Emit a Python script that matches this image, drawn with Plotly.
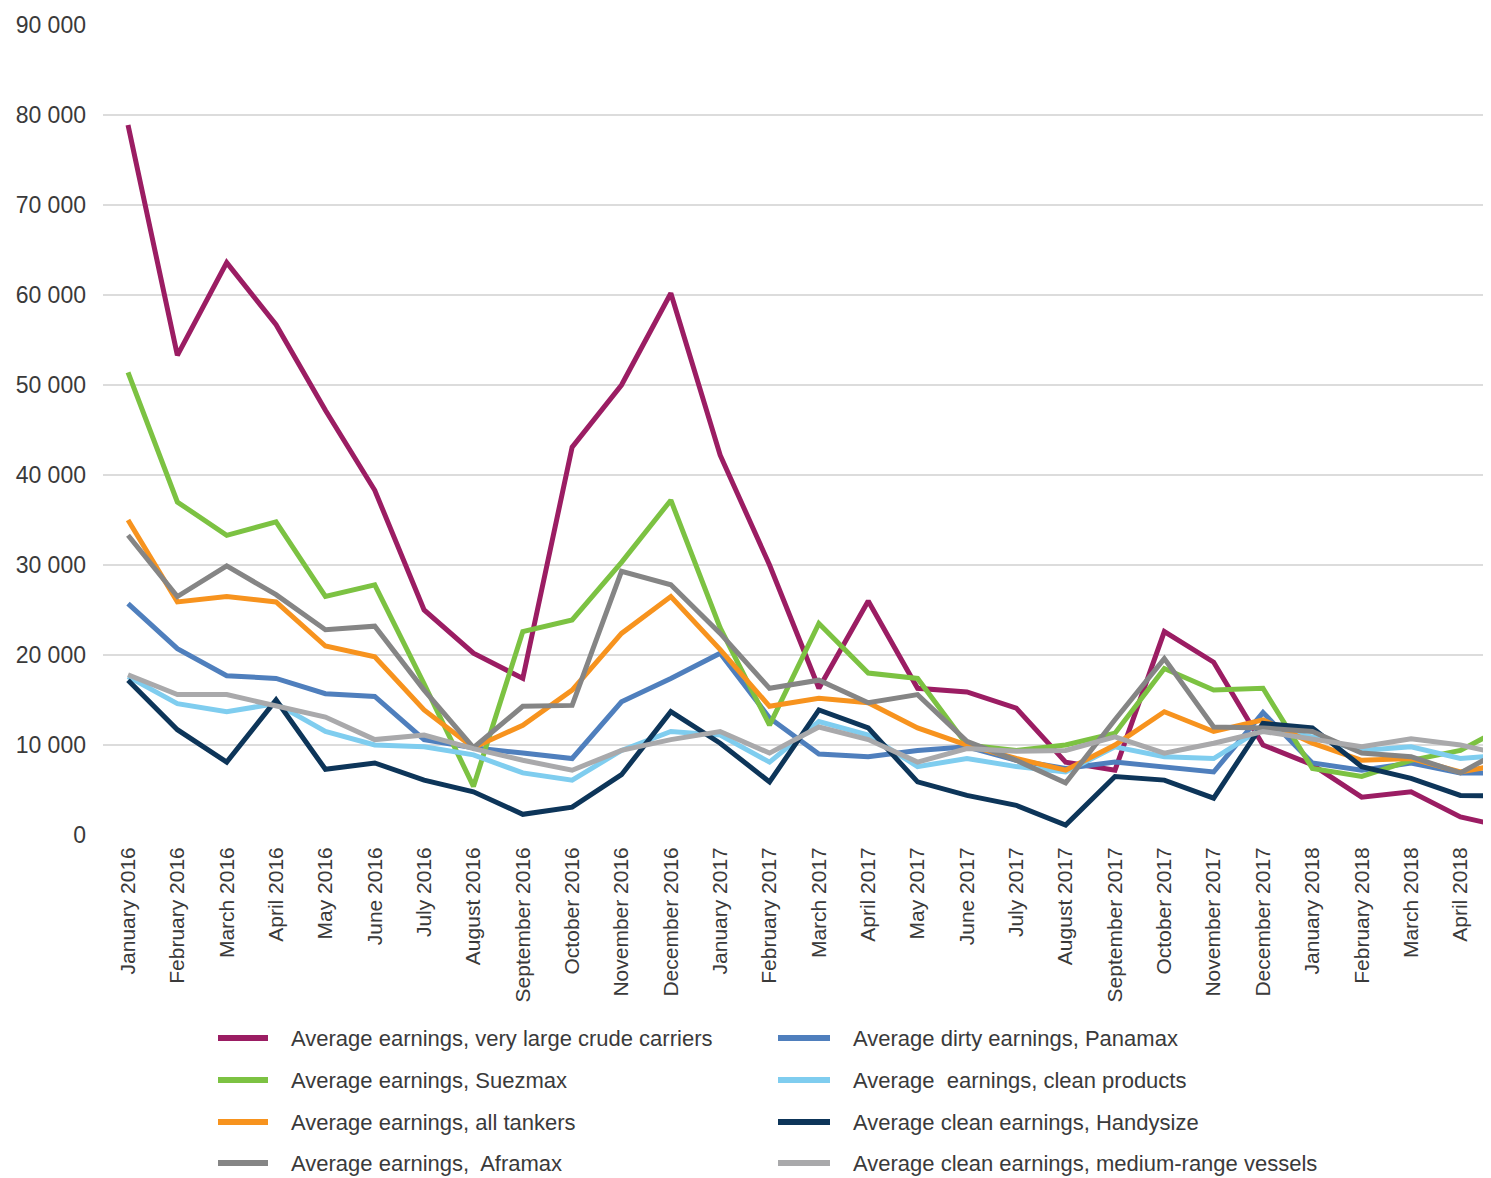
import plotly.graph_objects as go

months = ["January 2016", "February 2016", "March 2016", "April 2016", "May 2016", "June 2016",
          "July 2016", "August 2016", "September 2016", "October 2016", "November 2016", "December 2016",
          "January 2017", "February 2017", "March 2017", "April 2017", "May 2017", "June 2017",
          "July 2017", "August 2017", "September 2017", "October 2017", "November 2017", "December 2017",
          "January 2018", "February 2018", "March 2018", "April 2018", "May 2018"]

vlcc = [78900, 53300, 63600, 56700, 47200, 38300, 25000, 20200, 17400, 43100, 50000, 60200,
        42200, 30000, 16300, 26000, 16300, 15900, 14100, 8100, 7200, 22600, 19200, 10000,
        7800, 4200, 4800, 2000, 800]
panamax = [25700, 20700, 17700, 17400, 15700, 15400, 10600, 9700, 9100, 8500, 14800, 17400,
           20200, 13000, 9000, 8700, 9400, 9800, 8300, 7400, 8100, 7600, 7000, 13600,
           8000, 7200, 8000, 6900, 6900]
suezmax = [51400, 37000, 33300, 34800, 26500, 27800, 16800, 5400, 22600, 23900, 30300, 37200,
           23000, 12200, 23500, 18000, 17400, 10000, 9400, 10000, 11300, 18500, 16100, 16300,
           7400, 6500, 8300, 9400, 12300]
clean_products = [17600, 14600, 13700, 14600, 11500, 10000, 9800, 8900, 6900, 6100, 9400, 11500,
                  11100, 8100, 12600, 11100, 7600, 8500, 7600, 7000, 9800, 8700, 8500, 11900,
                  10900, 9400, 9800, 8500, 8900]
all_tankers = [35000, 25900, 26500, 25900, 21000, 19800, 13900, 9700, 12200, 16100, 22400, 26500,
               20600, 14300, 15200, 14700, 11900, 10000, 8500, 7200, 10000, 13700, 11500, 12800,
               10200, 8300, 8500, 7000, 8000]
handysize = [17200, 11700, 8100, 15000, 7300, 8000, 6100, 4800, 2300, 3100, 6700, 13700,
             10200, 5900, 13900, 11900, 5900, 4400, 3300, 1100, 6500, 6100, 4100, 12400,
             11900, 7600, 6300, 4400, 4300]
aframax = [33300, 26500, 29900, 26700, 22800, 23200, 16100, 9700, 14300, 14400, 29300, 27800,
           22400, 16300, 17200, 14700, 15600, 10400, 8300, 5800, 12800, 19600, 12000, 11900,
           11500, 9100, 8700, 6900, 9900]
medium_range = [17800, 15600, 15600, 14400, 13100, 10600, 11100, 9600, 8300, 7200, 9400, 10600,
                11500, 9100, 12000, 10600, 8100, 9600, 9300, 9400, 10900, 9100, 10200, 11500,
                10700, 9800, 10700, 10000, 8800]

series_names = [
    "Average earnings, very large crude carriers",
    "Average dirty earnings, Panamax",
    "Average earnings, Suezmax",
    "Average  earnings, clean products",
    "Average earnings, all tankers",
    "Average clean earnings, Handysize",
    "Average earnings,  Aframax",
    "Average clean earnings, medium-range vessels",
]
series_values = [vlcc, panamax, suezmax, clean_products, all_tankers, handysize, aframax, medium_range]
series_colors = ["#9b1d63", "#4f7fbd", "#7cc242", "#7fcdef", "#f7931e", "#0d3559", "#858585", "#a9a9ab"]

y_ticks = [0, 10000, 20000, 30000, 40000, 50000, 60000, 70000, 80000, 90000]
y_tick_labels = ["0", "10 000", "20 000", "30 000", "40 000", "50 000", "60 000", "70 000", "80 000", "90 000"]

FONT = "Liberation Sans, Arial, Helvetica, sans-serif"
TXT = "#3a3a3a"

W, H = 1483, 1170
L, R, T, B = 95, 0, 17, 343
PW, PH = W - L - R, H - T - B


def px_x(fx):
    return (fx - L) / PW


def px_y(fy):
    return (H - B - fy) / PH


fig = go.Figure()
for name, vals, color in zip(series_names, series_values, series_colors):
    fig.add_trace(go.Scatter(x=months, y=vals, name=name, mode="lines",
                             line=dict(color=color, width=5), showlegend=False))

# manual two-column legend (column-major as in the original)
shapes, annotations = [], []
col_line_x = [(210, 260), (770, 822)]
col_text_x = [281, 843]
row_y = [1030, 1072, 1114, 1155]
for i, (name, color) in enumerate(zip(series_names, series_colors)):
    col, row = i % 2, i // 2
    y = px_y(row_y[row])
    shapes.append(dict(type="line", xref="paper", yref="paper",
                       x0=px_x(col_line_x[col][0]), x1=px_x(col_line_x[col][1]), y0=y, y1=y,
                       line=dict(color=color, width=6)))
    annotations.append(dict(xref="paper", yref="paper", x=px_x(col_text_x[col]), y=y,
                            xanchor="left", yanchor="middle", showarrow=False, text=name,
                            font=dict(family=FONT, size=22, color=TXT)))

fig.update_layout(
    width=W, height=H,
    margin=dict(l=L, r=R, t=T, b=B, autoexpand=False),
    paper_bgcolor="white", plot_bgcolor="white",
    font=dict(family=FONT, size=22, color=TXT),
    showlegend=False,
    shapes=shapes, annotations=annotations,
    xaxis=dict(type="category", categoryorder="array", categoryarray=months,
               range=[-0.507, 27.62], tickangle=-90, showgrid=False, zeroline=False,
               showline=False, ticks="", ticklabelstandoff=7, automargin=False,
               tickfont=dict(family=FONT, size=21, color=TXT)),
    yaxis=dict(range=[0, 90000], tickvals=y_ticks, ticktext=y_tick_labels,
               showgrid=True, gridcolor="#dcdcdc", gridwidth=2, zeroline=False,
               showline=False, ticks="", ticklabelstandoff=16, automargin=False,
               tickfont=dict(family=FONT, size=23, color=TXT)),
)

fig.write_html("out.html")
